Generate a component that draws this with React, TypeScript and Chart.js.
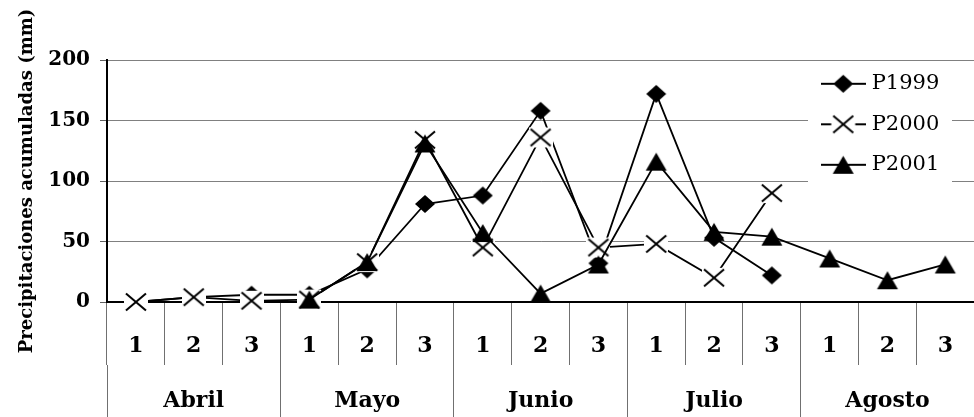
import React, { useEffect, useRef } from 'react';
import { Chart, registerables } from 'chart.js';

Chart.register(...registerables);

// Ten-day periods (decadas) within each month, and the months that group them
const decadas = ['1', '2', '3', '1', '2', '3', '1', '2', '3', '1', '2', '3', '1', '2', '3'];
const meses = ['Abril', 'Mayo', 'Junio', 'Julio', 'Agosto'];

// Accumulated precipitation per ten-day period (mm)
const p1999 = [0, 4, 6, 6, 27, 81, 88, 158, 32, 172, 53, 22, null, null, null];
const p2000 = [0, 4, 1, 2, 33, 134, 45, 136, 45, 48, 20, 90, null, null, null];
const p2001 = [null, null, null, 2, 33, 131, 57, 7, 31, 116, 58, 54, 36, 18, 31];

const yTicks = [0, 50, 100, 150, 200];

const SERIF = "'DejaVu Serif', serif";

type MarkerKind = 'diamond' | 'cross' | 'triangle';

// Marker bitmap; with lineLength > 0 a horizontal line runs through it (legend symbol)
function makeMarker(kind: MarkerKind, lineLength = 0): HTMLCanvasElement {
  const w = Math.max(lineLength, 24);
  const h = 22;
  const c = document.createElement('canvas');
  c.width = w;
  c.height = h;
  const g = c.getContext('2d') as CanvasRenderingContext2D;
  const cx = w / 2;
  const cy = h / 2;
  g.fillStyle = '#000';
  g.strokeStyle = '#000';
  if (lineLength) {
    g.lineWidth = 1.8;
    g.beginPath();
    g.moveTo(0, cy);
    g.lineTo(w, cy);
    g.stroke();
  }
  if (kind === 'diamond') {
    g.beginPath();
    g.moveTo(cx, cy - 9);
    g.lineTo(cx + 10, cy);
    g.lineTo(cx, cy + 9);
    g.lineTo(cx - 10, cy);
    g.closePath();
    g.fill();
  } else if (kind === 'triangle') {
    g.beginPath();
    g.moveTo(cx, cy - 9);
    g.lineTo(cx + 10.5, cy + 9);
    g.lineTo(cx - 10.5, cy + 9);
    g.closePath();
    g.fill();
  } else {
    g.fillStyle = '#fff';
    g.fillRect(cx - 12, cy - 10, 24, 20);
    g.lineWidth = 2;
    g.beginPath();
    g.moveTo(cx - 10, cy - 8.5);
    g.lineTo(cx + 10, cy + 8.5);
    g.moveTo(cx + 10, cy - 8.5);
    g.lineTo(cx - 10, cy + 8.5);
    g.stroke();
  }
  return c;
}

// Places the legend in the upper right of the plot, on a white panel
const legendPanel = {
  id: 'legendPanel',
  afterLayout(chart: any) {
    const lg = chart.legend;
    if (!lg) return;
    lg.left = 805.7;
    lg.top = 53.8;
    lg.width = 170;
    lg.height = 200;
    lg.right = lg.left + lg.width;
    lg.bottom = lg.top + lg.height;
  },
  beforeDatasetsDraw(chart: any) {
    const { ctx } = chart;
    ctx.save();
    ctx.fillStyle = '#fff';
    ctx.fillRect(808, 61.5, 144, 122.5);
    ctx.restore();
    if (chart.legend) chart.legend.draw();
  },
};

export default function App() {
  const ref = useRef<HTMLCanvasElement>(null);

  useEffect(() => {
    const canvas = ref.current;
    if (!canvas) return;

    const kinds: MarkerKind[] = ['diamond', 'cross', 'triangle'];
    const pointImgs = kinds.map((k) => makeMarker(k));
    const legendImgs = kinds.map((k) => makeMarker(k, 45));

    const series = [
      { label: 'P1999', data: p1999, order: 2 },
      { label: 'P2000', data: p2000, order: 1 },
      { label: 'P2001', data: p2001, order: 0 },
    ];

    const chart = new Chart(canvas, {
      type: 'line',
      data: {
        labels: decadas,
        datasets: series.map((s, i) => ({
          label: s.label,
          data: s.data,
          order: s.order,
          borderColor: '#000',
          backgroundColor: '#000',
          borderWidth: 1.8,
          tension: 0,
          fill: false,
          clip: false as any,
          pointStyle: pointImgs[i] as any,
          pointRadius: 10,
          pointHoverRadius: 10,
        })),
      },
      plugins: [legendPanel],
      options: {
        responsive: false,
        devicePixelRatio: 1,
        animation: false,
        events: [],
        layout: { padding: { top: 60, left: 0, right: 0, bottom: 0 } },
        plugins: {
          tooltip: { enabled: false },
          legend: {
            position: 'chartArea' as any,
            align: 'start',
            labels: {
              usePointStyle: true,
              pointStyleWidth: 36,
              boxHeight: 20,
              padding: 19.5,
              color: '#000',
              font: { family: SERIF, size: 21 },
              generateLabels(c: any) {
                const items = (Chart.defaults.plugins.legend.labels as any).generateLabels(c);
                items.forEach((it: any) => {
                  it.pointStyle = legendImgs[it.datasetIndex];
                });
                return items.sort((a: any, b: any) => a.datasetIndex - b.datasetIndex);
              },
            },
          },
        },
        scales: {
          x: {
            type: 'category',
            position: 'bottom',
            weight: 0,
            offset: true,
            grid: {
              offset: true,
              drawOnChartArea: false,
              drawTicks: true,
              tickLength: 63,
              tickColor: '#707070',
              tickWidth: 1,
            },
            border: { display: true, color: '#000', width: 2 },
            ticks: {
              autoSkip: false,
              maxRotation: 0,
              padding: -32.2,
              color: '#000',
              font: { family: SERIF, size: 22, weight: 'bold' },
            },
            afterFit: (s: any) => {
              s.height = 63;
            },
          },
          mes: {
            type: 'category',
            position: 'bottom',
            weight: 1,
            labels: meses,
            offset: true,
            grid: {
              offset: true,
              drawOnChartArea: false,
              drawTicks: true,
              tickLength: 52,
              tickColor: '#707070',
              tickWidth: 1,
            },
            border: { display: false },
            ticks: {
              autoSkip: false,
              maxRotation: 0,
              padding: -28.6,
              color: '#000',
              font: { family: SERIF, size: 22, weight: 'bold' },
            },
            afterFit: (s: any) => {
              s.height = 52;
            },
          },
          y: {
            min: yTicks[0],
            max: yTicks[yTicks.length - 1],
            grid: { color: '#808080', lineWidth: 1, tickLength: 7, tickColor: '#606060' },
            border: { color: '#000', width: 2 },
            ticks: {
              stepSize: yTicks[1] - yTicks[0],
              padding: 10,
              color: '#000',
              font: { family: SERIF, size: 20, weight: 'bold' },
            },
            title: {
              display: true,
              text: 'Precipitaciones acumuladas (mm)',
              color: '#000',
              font: { family: SERIF, size: 18, weight: 'bold' },
              padding: { top: 17, bottom: 0 },
            },
            afterFit: (s: any) => {
              s.width = 107;
            },
          },
        },
      } as any,
    });

    return () => chart.destroy();
  }, []);

  return (
    <div
      style={{
        position: 'absolute',
        left: 0,
        top: 0,
        width: 974,
        height: 417,
        overflow: 'hidden',
        background: '#fff',
      }}
    >
      <canvas ref={ref} width={986} height={417} style={{ display: 'block', width: 986, height: 417 }} />
    </div>
  );
}
